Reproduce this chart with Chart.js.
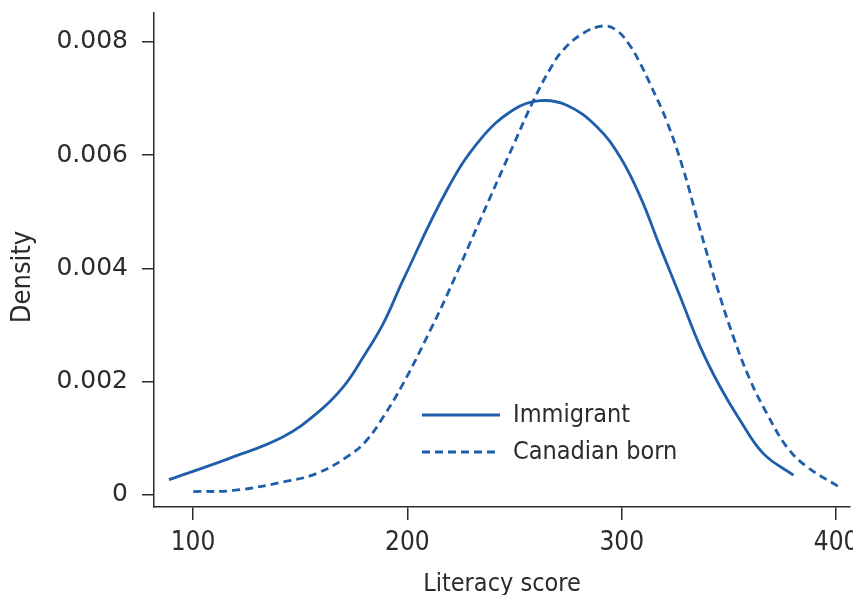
<!DOCTYPE html>
<html>
<head>
<meta charset="utf-8">
<title>Literacy score density</title>
<script src="https://cdn.jsdelivr.net/npm/chart.js@4.4.1/dist/chart.umd.min.js"></script>
<style>
  html, body { margin: 0; padding: 0; background: #fff; }
  #wrap { width: 853px; height: 595px; }
</style>
</head>
<body>
<div id="wrap"><canvas id="chart" width="853" height="595"></canvas></div>
<script>
// --- Data ---
const immigrantX = [88.8, 117.3, 142.1, 157.7, 170.1, 179.5, 188.8, 198.1, 218.4, 233.9, 249.5, 261.9, 274.4, 288.4, 299.2, 308.6, 317.9, 327.3, 336.6, 345.9, 355.2, 366.1, 380.1];
const immigrantY = [0.00027, 0.00065, 0.00103, 0.00144, 0.00191, 0.00244, 0.00303, 0.00380, 0.00538, 0.00627, 0.00680, 0.00696, 0.00688, 0.00650, 0.00597, 0.00527, 0.00438, 0.00350, 0.00262, 0.00191, 0.00132, 0.00073, 0.00035];

const canadianX = [100.1, 118.8, 142.1, 157.7, 173.3, 181.1, 188.8, 198.1, 210.6, 218.4, 233.9, 249.5, 258.8, 266.6, 272.8, 282.0, 291.5, 297.7, 303.9, 308.6, 313.2, 321.0, 328.8, 336.6, 344.4, 352.1, 359.9, 367.7, 377.0, 386.3, 401.1];
const canadianY = [0.00006, 0.00008, 0.00023, 0.00038, 0.00071, 0.00097, 0.00138, 0.00197, 0.00290, 0.00352, 0.00485, 0.00618, 0.00696, 0.00752, 0.00786, 0.00815, 0.00828, 0.00820, 0.00793, 0.00762, 0.00726, 0.00660, 0.00574, 0.00468, 0.00368, 0.00279, 0.00203, 0.00144, 0.00085, 0.00050, 0.00015];

const seriesLabels = ['Immigrant', 'Canadian born'];

const xTicks      = [100, 200, 300, 400];
const xTickLabels = ['100', '200', '300', '400'];
const yTicks      = [0, 0.002, 0.004, 0.006, 0.008];
const yTickLabels = ['0', '0.002', '0.004', '0.006', '0.008'];

const xTitle = 'Literacy score';
const yTitle = 'Density';

// --- Styling ---
const BLUE   = '#1f5eaa';
const INK    = '#2b2b2b';
const NARROW = "'DejaVu Sans Condensed', 'Liberation Sans Narrow', sans-serif";
const SANS   = "'DejaVu Sans', sans-serif";

function toPoints(xs, ys) {
  return xs.map((x, i) => ({ x: x, y: ys[i] }));
}

// Legend inside the plot area + y title placed like the reference
const overlayText = {
  id: 'overlayText',
  afterDatasetsDraw(chart) {
    const ctx = chart.ctx;
    const x0 = 422, x1 = 500, tx = 513;
    const rows = [415, 452];
    ctx.save();
    chart.data.datasets.forEach((ds, i) => {
      const y = rows[i];
      ctx.strokeStyle = ds.borderColor;
      ctx.lineWidth = ds.borderWidth;
      ctx.setLineDash(ds.borderDash || []);
      ctx.beginPath();
      ctx.moveTo(x0, y);
      ctx.lineTo(x1, y);
      ctx.stroke();
      ctx.setLineDash([]);
      ctx.fillStyle = INK;
      ctx.font = '25px ' + NARROW;
      ctx.textBaseline = 'middle';
      ctx.textAlign = 'left';
      ctx.fillText(ds.label, tx, y);
    });

    // y axis title, sits a bit below the axis middle in the reference
    ctx.translate(23, 277);
    ctx.rotate(-Math.PI / 2);
    ctx.font = '27px ' + NARROW;
    ctx.textAlign = 'center';
    ctx.textBaseline = 'middle';
    ctx.fillText(yTitle, 0, 0);
    ctx.restore();
  }
};

new Chart(document.getElementById('chart'), {
  type: 'scatter',
  data: {
    datasets: [
      {
        label: seriesLabels[0],
        data: toPoints(immigrantX, immigrantY),
        showLine: true,
        borderColor: BLUE,
        borderWidth: 2.8,
        pointRadius: 0,
        tension: 0.4,
        fill: false
      },
      {
        label: seriesLabels[1],
        data: toPoints(canadianX, canadianY),
        showLine: true,
        borderColor: BLUE,
        borderWidth: 2.8,
        borderDash: [8, 5],
        pointRadius: 0,
        tension: 0.4,
        fill: false
      }
    ]
  },
  options: {
    responsive: false,
    animation: false,
    layout: { padding: { top: 13, right: 3, left: 0, bottom: 0 } },
    plugins: {
      legend: { display: false },
      tooltip: { enabled: false }
    },
    scales: {
      x: {
        type: 'linear',
        min: 81.8,
        max: 406.5,
        afterBuildTicks: s => { s.ticks = xTicks.map(v => ({ value: v })); },
        afterFit: s => { s.height = 88; s.paddingLeft = 0; s.paddingRight = 0; },
        ticks: {
          callback: (v) => xTickLabels[xTicks.indexOf(v)],
          color: INK,
          font: { family: NARROW, size: 26 },
          padding: 8,
          maxRotation: 0
        },
        grid: { display: true, drawOnChartArea: false, drawTicks: true, tickLength: 13, color: INK, lineWidth: 1.5 },
        border: { display: true, color: INK, width: 1.5 },
        title: {
          display: true,
          text: xTitle,
          color: INK,
          font: { family: NARROW, size: 25 },
          padding: { top: 0, bottom: -4 }
        }
      },
      y: {
        type: 'linear',
        min: -0.000212,
        max: 0.008508,
        afterBuildTicks: s => { s.ticks = yTicks.map(v => ({ value: v })); },
        afterFit: s => { s.width = 154; s.paddingTop = 0; s.paddingBottom = 0; },
        ticks: {
          callback: (v) => yTickLabels[yTicks.indexOf(v)],
          color: INK,
          font: { family: SANS, size: 25 },
          padding: 14
        },
        grid: { display: true, drawOnChartArea: false, drawTicks: true, tickLength: 12, color: INK, lineWidth: 1.5 },
        border: { display: true, color: INK, width: 1.5 }
      }
    }
  },
  plugins: [overlayText]
});
</script>
</body>
</html>
